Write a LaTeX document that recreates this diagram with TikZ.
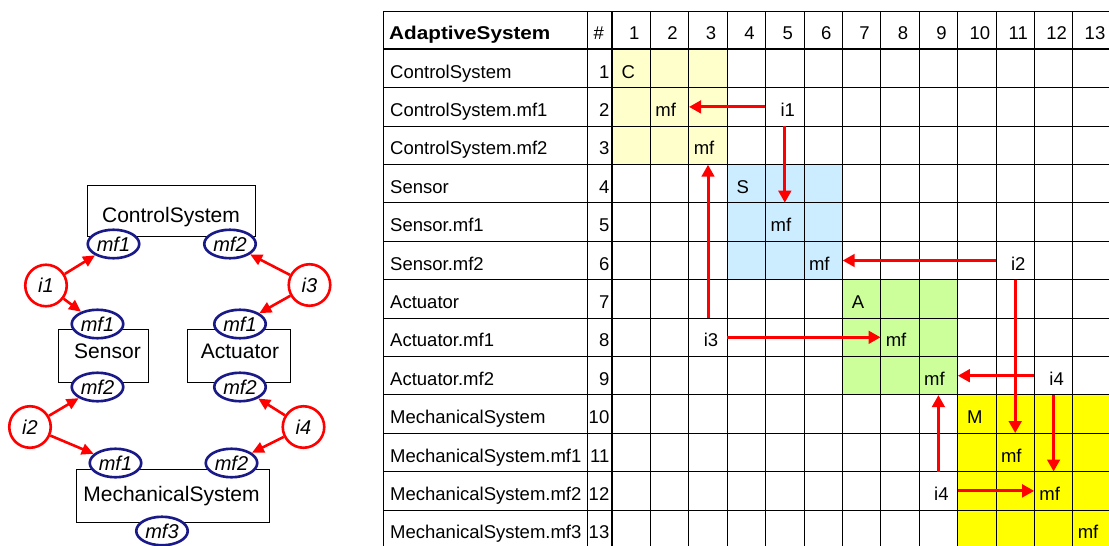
\documentclass[tikz,border=0pt]{standalone}
\usepackage{fontspec}
\setmainfont{Liberation Sans}
\usetikzlibrary{arrows.meta,shapes.geometric}

\definecolor{portblue}{RGB}{25,25,135}
\definecolor{linkred}{RGB}{255,0,0}
\definecolor{csfill}{RGB}{255,255,204}
\definecolor{senfill}{RGB}{204,236,255}
\definecolor{actfill}{RGB}{204,255,153}
\definecolor{msfill}{RGB}{255,255,0}

\newcommand\dsmtab{\fontsize{18.5}{20}\selectfont}
\newcommand\dsmbig{\fontsize{21}{22}\selectfont}
\newcommand\dsmport{\fontsize{20}{20}\selectfont\itshape}

\tikzset{
  block/.style={draw=black, line width=1pt, rectangle, inner sep=0pt},
  blocklabel/.style={anchor=base, inner sep=0pt, font=\dsmbig},
  port/.style={ellipse, draw=portblue, line width=2.6pt, fill=white,
    minimum width=51.5pt, minimum height=28.5pt, inner sep=0pt,
    font=\dsmport, text height=14pt, text depth=0pt},
  iface/.style={circle, draw=linkred, line width=2.6pt, fill=white,
    minimum size=41.5pt, inner sep=0pt,
    font=\dsmport, text height=14pt, text depth=0pt},
  link/.style={draw=linkred, line width=2.6pt, -{Triangle[length=12pt,width=11pt]}},
  thinrule/.style={draw=black, line width=1pt},
  thickrule/.style={draw=black, line width=2pt},
  cellbase/.style={inner ysep=0pt, minimum height=38.4pt, text height=19pt,
    text depth=0pt, font=\dsmtab},
  cellmf/.style={cellbase, inner xsep=5pt, text width=28.4pt, align=left},
  cellcap/.style={cellbase, inner xsep=9.5pt, text width=19.4pt, align=left},
  cellif/.style={cellbase, inner xsep=9pt, text width=20.4pt, align=right},
  rowlabel/.style={cellbase, anchor=west, inner xsep=7pt},
  rownum/.style={cellbase, anchor=east, inner xsep=0.5pt},
  colnum/.style={cellbase, inner xsep=0pt},
  tlink/.style={draw=linkred, line width=3pt, -{Triangle[length=12pt,width=12.5pt]}},
}

\begin{document}
\begin{tikzpicture}[x=1pt,y=-1pt]
\useasboundingbox (0,0) rectangle (1109,546);
\clip (0,0) rectangle (1109,546);
\fill[white] (0,0) rectangle (1109,546);

% ---------- component diagram ----------
\node[block, minimum width=168pt, minimum height=51pt] (csbox) at (171,210.5) {};
\node[block, minimum width=90pt, minimum height=53pt] (senbox) at (103,355.5) {};
\node[block, minimum width=103pt, minimum height=53pt] (actbox) at (238.5,355.5) {};
\node[block, minimum width=193pt, minimum height=53pt] (msbox) at (172.5,495.5) {};

\node[blocklabel] (cstext) at (171,222.3) {ControlSystem};
\node[blocklabel] (sentext) at (107.5,358.3) {Sensor};
\node[blocklabel] (acttext) at (240,358.3) {Actuator};
\node[blocklabel] (mstext) at (171.5,501.7) {MechanicalSystem};

\node[port] (csmf1) at (113.5,244) {mf1};
\node[port] (csmf2) at (230,244) {mf2};
\node[port] (senmf1) at (97.5,324) {mf1};
\node[port] (senmf2) at (97.5,387) {mf2};
\node[port] (actmf1) at (240,324) {mf1};
\node[port] (actmf2) at (240,387) {mf2};
\node[port] (msmf1) at (115.5,463) {mf1};
\node[port] (msmf2) at (231.5,463) {mf2};
\node[port] (msmf3) at (162,531) {mf3};

\node[iface] (ia) at (46,285.5) {i1};
\node[iface] (ic) at (309.5,285) {i3};
\node[iface] (ib) at (30,427) {i2};
\node[iface] (id) at (303.5,427) {i4};

\draw[link] (ia) -- (csmf1);
\draw[link] (ia) -- (senmf1);
\draw[link] (ic) -- (csmf2);
\draw[link] (ic) -- (actmf1);
\draw[link] (ib) -- (senmf2);
\draw[link] (ib) -- (msmf1);
\draw[link] (id) -- (actmf2);
\draw[link] (id) -- (msmf2);

% ---------- dependency matrix ----------
\fill[csfill] (612,49.3) rectangle (727.2,164.5);
\fill[senfill] (727.2,164.5) rectangle (842.4,279.7);
\fill[actfill] (842.4,279.7) rectangle (957.6,394.9);
\fill[msfill] (957.6,394.9) rectangle (1111.2,548.5);

\draw[thinrule] (383,11) -- (1112,11);
\foreach \k in {1,...,13}{
  \draw[thinrule] (383,{49.3+38.4*\k}) -- (1112,{49.3+38.4*\k});
  \draw[thinrule] ({612+38.4*\k},11) -- ({612+38.4*\k},550);
}
\draw[thinrule] (383,11) -- (383,550);
\draw[thinrule] (587,11) -- (587,550);
\draw[thickrule] (383,49.3) -- (1112,49.3);
\draw[thickrule] (612,11) -- (612,550);

% header row
\node[rowlabel, inner xsep=6pt] (title) at (383,30.15)
  {\scalebox{1.12}[1]{\bfseries AdaptiveSystem}};
\node[colnum] (hash) at (598.7,30.15) {\#};
\foreach \c in {1,...,13}{
  \node[colnum] (hd\c) at ({595.8+38.4*\c},30.15) {\c};
}

% row names and numbers
\foreach \lab [count=\r] in {ControlSystem, ControlSystem.mf1, ControlSystem.mf2,
    Sensor, Sensor.mf1, Sensor.mf2, Actuator, Actuator.mf1, Actuator.mf2,
    MechanicalSystem, MechanicalSystem.mf1, MechanicalSystem.mf2,
    MechanicalSystem.mf3}{
  \node[rowlabel] (lab\r) at (383,{30.1+38.4*\r}) {\lab};
  \node[rownum] (num\r) at (610,{30.1+38.4*\r}) {\r};
}

% diagonal entries
\node[cellcap] (t11) at (631.2,68.5) {C};
\node[cellmf] (t22) at (669.6,106.9) {mf};
\node[cellmf] (t33) at (708,145.3) {mf};
\node[cellcap] (t44) at (746.4,183.7) {S};
\node[cellmf] (t55) at (784.8,222.1) {mf};
\node[cellmf] (t66) at (823.2,260.5) {mf};
\node[cellcap] (t77) at (861.6,298.9) {A};
\node[cellmf] (t88) at (900,337.3) {mf};
\node[cellmf] (t99) at (938.4,375.7) {mf};
\node[cellcap] (t1010) at (976.8,414.1) {M};
\node[cellmf] (t1111) at (1015.2,452.5) {mf};
\node[cellmf] (t1212) at (1053.6,490.9) {mf};
\node[cellmf] (t1313) at (1092,529.3) {mf};

% interface entries
\node[cellif] (t25) at (784.8,106.9) {i1};
\node[cellif] (t611) at (1015.2,260.5) {i2};
\node[cellif] (t83) at (708,337.3) {i3};
\node[cellif] (t912) at (1053.6,375.7) {i4};
\node[cellif] (t129) at (938.4,490.9) {i4};

% interface links in the matrix
\draw[tlink] (t25.west) -- (t22.east);
\draw[tlink] (t25.south) -- (t55.north);
\draw[tlink] (t83.north) -- (t33.south);
\draw[tlink] (t83.east) -- (t88.west);
\draw[tlink] (t611.west) -- (t66.east);
\draw[tlink] (t611.south) -- (t1111.north);
\draw[tlink] (t912.west) -- (t99.east);
\draw[tlink] (t912.south) -- (t1212.north);
\draw[tlink] (t129.north) -- (t99.south);
\draw[tlink] (t129.east) -- (t1212.west);
\end{tikzpicture}
\end{document}
